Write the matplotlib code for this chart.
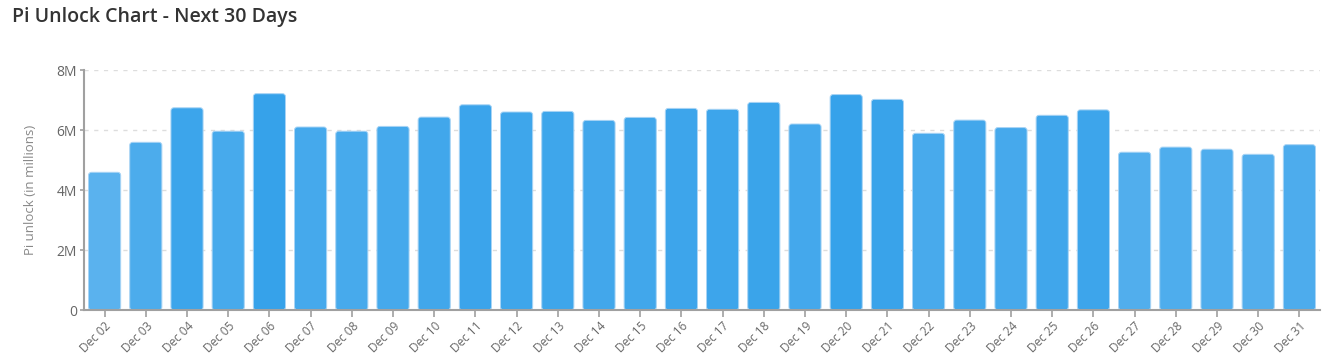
import matplotlib
matplotlib.use("Agg")
import matplotlib.pyplot as plt
from matplotlib.patches import FancyBboxPatch
from matplotlib.colors import LinearSegmentedColormap, Normalize
import numpy as np

days = ["Dec %02d" % d for d in range(2, 32)]
unlock = [4.59, 5.59, 6.74, 5.96, 7.21, 6.10, 5.96, 6.12, 6.43, 6.84,
          6.60, 6.62, 6.32, 6.42, 6.72, 6.69, 6.92, 6.20, 7.18, 7.02,
          5.89, 6.33, 6.08, 6.49, 6.67, 5.26, 5.43, 5.36, 5.19, 5.51]
y_ticks = [0, 2, 4, 6, 8]
y_labels = ["0", "2M", "4M", "6M", "8M"]

plt.rcParams['font.family'] = ['Open Sans', 'DejaVu Sans']

fig = plt.figure(figsize=(13.35, 3.58), dpi=100)
ax = fig.add_axes([84 / 1335, 48 / 358, (1320 - 84) / 1335, 240 / 358])

cmap = LinearSegmentedColormap.from_list("pi", ["#5ab2ee", "#36a2ea"])
norm = Normalize(vmin=min(unlock), vmax=max(unlock))
x = np.arange(len(days))
bars = ax.bar(x, unlock, width=0.78, color=[cmap(norm(v)) for v in unlock])

# swap plain rectangles for rounded ones
for b in bars:
    bx, by = b.get_x(), b.get_y()
    w, h = b.get_width(), b.get_height()
    rp = FancyBboxPatch((bx, by), w, h,
                        boxstyle="round,pad=0,rounding_size=0.07",
                        mutation_aspect=1.4,
                        facecolor=b.get_facecolor(), edgecolor="#a8d4f5",
                        linewidth=0.7, zorder=2)
    b.set_visible(False)
    ax.add_patch(rp)

ax.set_xlim(-0.5, len(days) - 0.5)
ax.set_ylim(0, 8)
ax.set_yticks(y_ticks)
ax.set_yticklabels(y_labels)
ax.set_xticks(x)
ax.set_xticklabels(days, rotation=45, ha="right", rotation_mode="anchor")

ax.yaxis.grid(True, linestyle=(0, (3, 4)), color="#dddddd", linewidth=1)
ax.set_axisbelow(True)
for s in ["top", "right"]:
    ax.spines[s].set_visible(False)
for s in ["left", "bottom"]:
    ax.spines[s].set_color("#a0a0a0")
    ax.spines[s].set_linewidth(1.5)

ax.tick_params(axis="x", colors="#a0a0a0", length=5, width=1.2, labelsize=8.5,
               labelcolor="#666666", pad=2)
ax.tick_params(axis="y", colors="#a0a0a0", length=3, width=1.2, labelsize=10,
               labelcolor="#666666", pad=2)

ax.set_ylabel("Pi unlock (in millions)", color="#888888", fontsize=9.5, labelpad=14)

fig.text(12 / 1335, 1 - 17 / 358, "Pi Unlock Chart - Next 30 Days",
         fontsize=14, fontweight="semibold", color="#333333", va="center")

fig.savefig("out.png", dpi=100)
